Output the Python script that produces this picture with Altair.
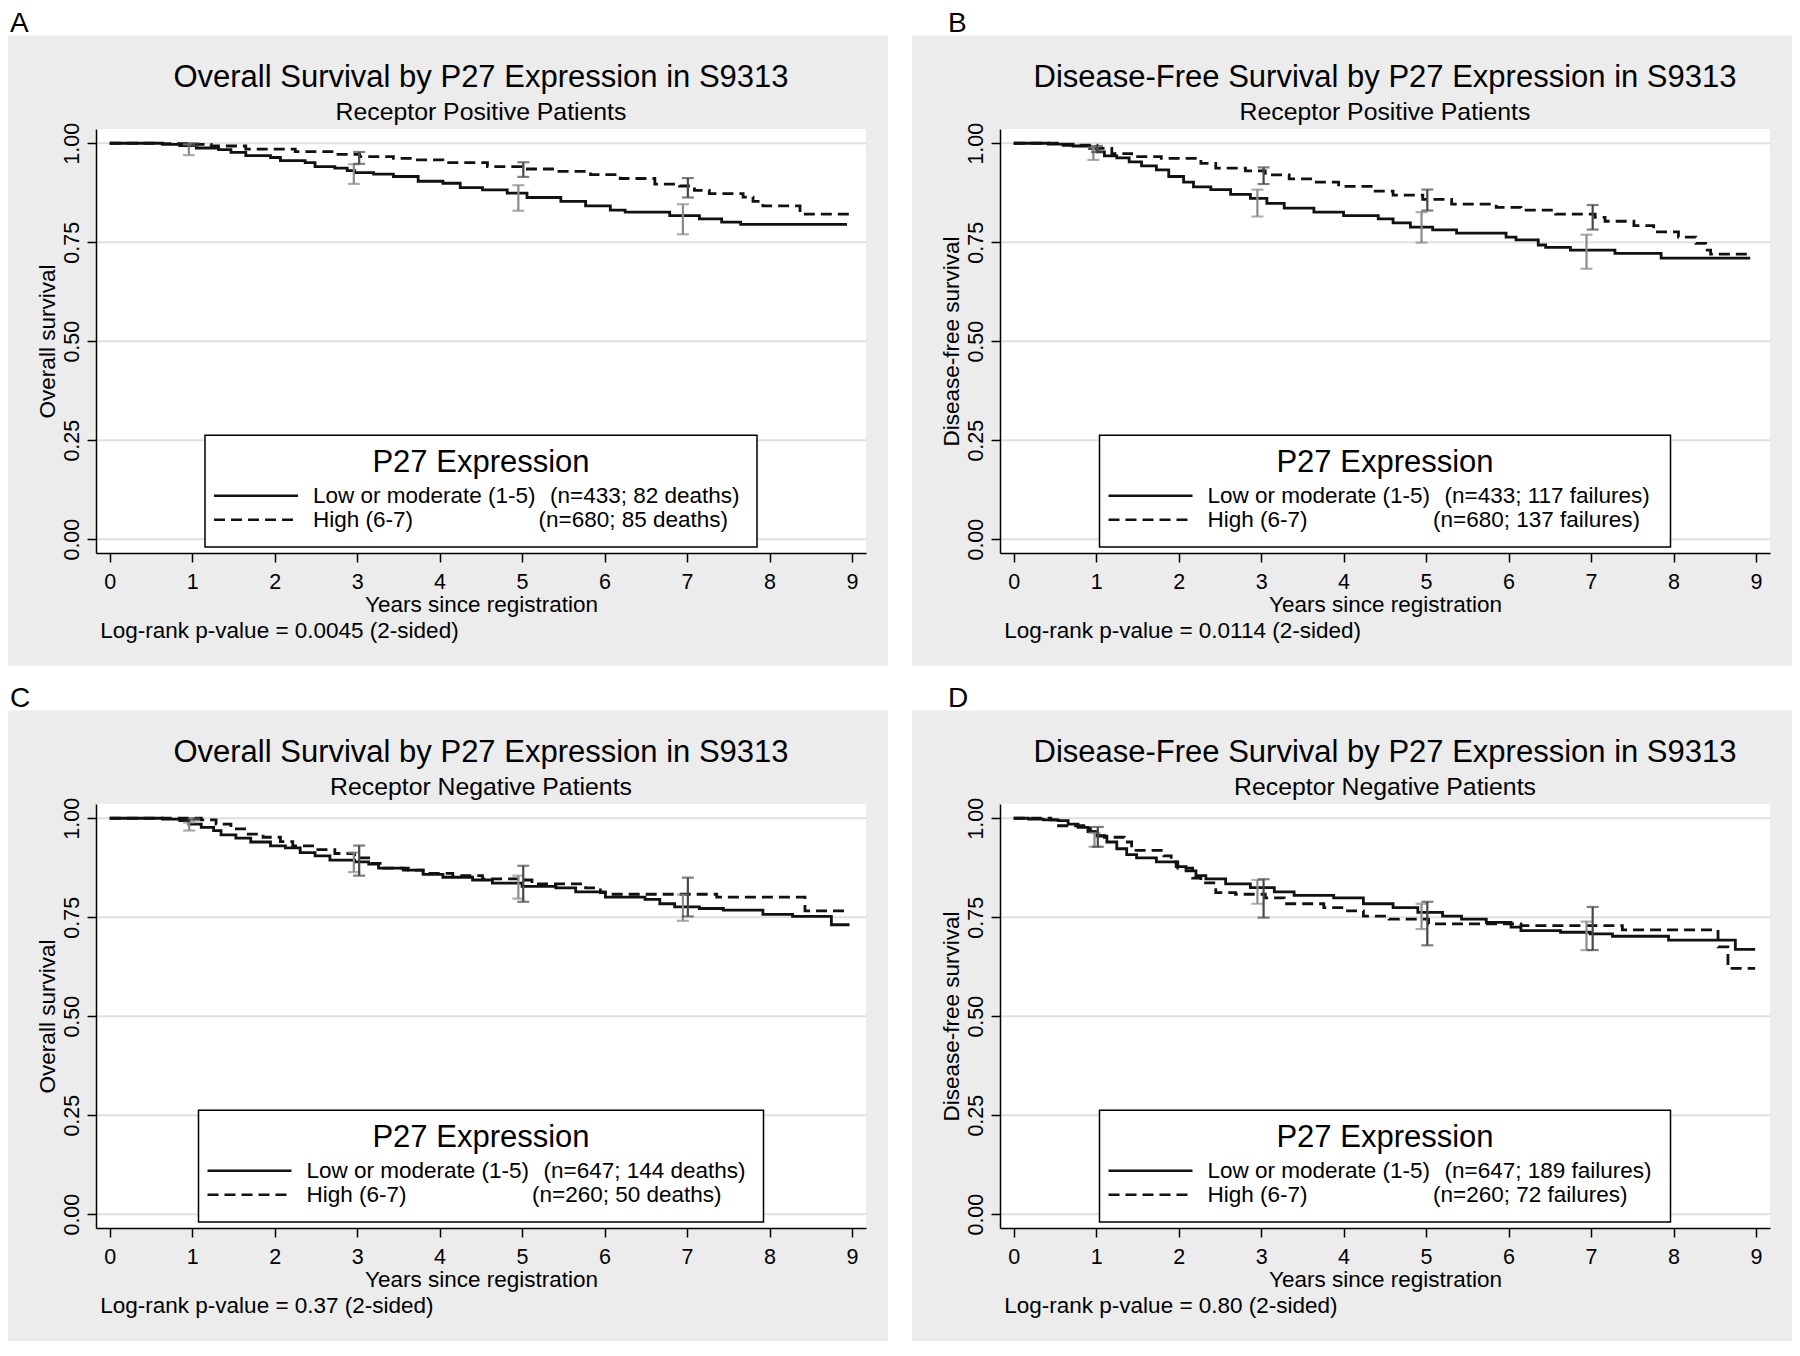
import altair as alt
import pandas as pd

# ---------------------------------------------------------------- data
GROUPS = ["Low or moderate (1-5)", "High (6-7)"]
X_TICKS = list(range(10))
Y_TICKS = [0.0, 0.25, 0.5, 0.75, 1.0]
CI_YEARS = [1, 3, 5, 7]

LETTERS = ["A", "B", "C", "D"]
TITLES = [
    "Overall Survival by P27 Expression in S9313",
    "Disease-Free Survival by P27 Expression in S9313",
    "Overall Survival by P27 Expression in S9313",
    "Disease-Free Survival by P27 Expression in S9313",
]
SUBTITLES = [
    "Receptor Positive Patients",
    "Receptor Positive Patients",
    "Receptor Negative Patients",
    "Receptor Negative Patients",
]
Y_TITLES = ["Overall survival", "Disease-free survival", "Overall survival", "Disease-free survival"]
X_TITLE = "Years since registration"
LEGEND_TITLE = "P27 Expression"
N_LOW = ["(n=433; 82 deaths)", "(n=433; 117 failures)", "(n=647; 144 deaths)", "(n=647; 189 failures)"]
N_HIGH = ["(n=680; 85 deaths)", "(n=680; 137 failures)", "(n=260; 50 deaths)", "(n=260; 72 failures)"]
PVALUES = [
    "Log-rank p-value = 0.0045 (2-sided)",
    "Log-rank p-value = 0.0114 (2-sided)",
    "Log-rank p-value = 0.37 (2-sided)",
    "Log-rank p-value = 0.80 (2-sided)",
]

# Panel A: overall survival, receptor positive
A_LOW_T = [0, 0.64, 0.85, 1.05, 1.32, 1.47, 1.65, 1.95, 2.07, 2.37, 2.49, 2.73, 2.88, 2.97, 3.20, 3.44,
           3.74, 4.04, 4.25, 4.52, 4.82, 5.06, 5.47, 5.77, 6.07, 6.25, 6.79, 7.15, 7.42, 7.65, 8.94]
A_LOW_S = [1.000, 0.997, 0.994, 0.988, 0.984, 0.977, 0.969, 0.964, 0.956, 0.951, 0.941, 0.937, 0.931,
           0.926, 0.922, 0.916, 0.904, 0.899, 0.888, 0.882, 0.874, 0.863, 0.853, 0.842, 0.831, 0.826,
           0.817, 0.809, 0.801, 0.795, 0.795]
A_HIGH_T = [0, 0.55, 0.96, 1.23, 1.65, 2.25, 2.73, 3.03, 3.44, 3.68, 4.04, 4.58, 5.00, 5.41, 5.83, 6.19,
            6.61, 6.91, 7.09, 7.27, 7.68, 7.80, 7.92, 8.37, 8.97]
A_HIGH_S = [1.000, 0.999, 0.997, 0.993, 0.985, 0.979, 0.972, 0.966, 0.962, 0.958, 0.951, 0.941, 0.935,
            0.929, 0.921, 0.911, 0.897, 0.892, 0.881, 0.873, 0.864, 0.853, 0.842, 0.821, 0.821]
A_CI_LOW_X = [0.96, 2.96, 4.955, 6.95]
A_CI_LOW_LO = [0.970, 0.8975, 0.8295, 0.770]
A_CI_LOW_HI = [0.997, 0.947, 0.894, 0.846]
A_CI_HIGH_X = [1.01, 3.025, 5.015, 7.01]
A_CI_HIGH_LO = [0.993, 0.948, 0.915, 0.863]
A_CI_HIGH_HI = [1.000, 0.978, 0.952, 0.912]

# Panel B: disease-free survival, receptor positive
B_LOW_T = [0, 0.42, 0.72, 0.92, 1.01, 1.10, 1.25, 1.40, 1.55, 1.73, 1.88, 2.06, 2.18, 2.39, 2.63, 2.87,
           3.07, 3.28, 3.64, 4.00, 4.42, 4.60, 4.81, 5.08, 5.37, 5.97, 6.09, 6.36, 6.45, 6.75, 7.29,
           7.85, 8.93]
B_LOW_S = [1.000, 0.998, 0.993, 0.987, 0.978, 0.968, 0.963, 0.953, 0.943, 0.933, 0.916, 0.902, 0.890,
           0.883, 0.871, 0.861, 0.848, 0.836, 0.826, 0.817, 0.809, 0.799, 0.788, 0.781, 0.773, 0.763,
           0.756, 0.743, 0.737, 0.730, 0.722, 0.710, 0.710]
B_HIGH_T = [0, 0.60, 1.01, 1.19, 1.43, 1.79, 2.27, 2.45, 2.81, 3.05, 3.34, 3.64, 3.94, 4.36, 4.60, 4.96,
            5.31, 5.85, 6.15, 6.57, 7.05, 7.17, 7.52, 7.76, 8.06, 8.27, 8.39, 8.45, 8.93]
B_HIGH_S = [1.000, 0.995, 0.987, 0.974, 0.966, 0.962, 0.949, 0.937, 0.930, 0.920, 0.910, 0.902, 0.891,
            0.879, 0.869, 0.858, 0.846, 0.838, 0.831, 0.821, 0.813, 0.803, 0.792, 0.776, 0.763, 0.747,
            0.730, 0.720, 0.720]
B_CI_LOW_X = [0.966, 2.955, 4.945, 6.945]
B_CI_LOW_LO = [0.958, 0.815, 0.749, 0.683]
B_CI_LOW_HI = [0.989, 0.883, 0.826, 0.769]
B_CI_HIGH_X = [1.01, 3.03, 5.015, 7.02]
B_CI_HIGH_LO = [0.978, 0.897, 0.830, 0.782]
B_CI_HIGH_HI = [0.993, 0.939, 0.883, 0.844]

# Panel C: overall survival, receptor negative
C_LOW_T = [0, 0.64, 0.85, 0.96, 1.11, 1.26, 1.35, 1.53, 1.71, 1.95, 2.13, 2.31, 2.49, 2.67, 2.97, 3.14,
           3.26, 3.56, 3.80, 4.04, 4.40, 4.64, 5.00, 5.41, 5.65, 6.01, 6.49, 6.67, 6.85, 7.15, 7.44,
           7.92, 8.28, 8.75, 8.97]
C_LOW_S = [1.000, 0.998, 0.994, 0.985, 0.977, 0.969, 0.958, 0.950, 0.940, 0.930, 0.925, 0.913, 0.905,
           0.894, 0.890, 0.884, 0.874, 0.869, 0.858, 0.851, 0.844, 0.836, 0.828, 0.824, 0.814, 0.801,
           0.795, 0.784, 0.776, 0.772, 0.768, 0.757, 0.752, 0.731, 0.731]
C_HIGH_T = [0, 1.11, 1.29, 1.47, 1.68, 1.86, 2.07, 2.22, 2.49, 2.73, 2.97, 3.14, 3.32, 3.62, 3.80, 4.16,
            4.52, 5.00, 5.12, 5.77, 5.95, 6.01, 7.36, 8.43, 8.97]
C_HIGH_S = [1.000, 0.996, 0.985, 0.973, 0.960, 0.952, 0.941, 0.930, 0.921, 0.911, 0.900, 0.886, 0.874,
            0.869, 0.861, 0.855, 0.847, 0.844, 0.834, 0.824, 0.812, 0.808, 0.801, 0.766, 0.766]
C_CI_LOW_X = [0.964, 2.96, 4.955, 6.95]
C_CI_LOW_LO = [0.969, 0.864, 0.797, 0.741]
C_CI_LOW_HI = [0.989, 0.913, 0.855, 0.807]
C_CI_HIGH_X = [1.02, 3.025, 5.014, 7.01]
C_CI_HIGH_LO = [0.995, 0.855, 0.789, 0.752]
C_CI_HIGH_HI = [1.000, 0.931, 0.880, 0.850]

# Panel D: disease-free survival, receptor negative
D_LOW_T = [0, 0.18, 0.36, 0.54, 0.66, 0.78, 0.90, 1.01, 1.13, 1.25, 1.37, 1.49, 1.73, 1.97, 2.09, 2.21,
           2.33, 2.57, 2.87, 3.16, 3.40, 3.88, 4.24, 4.60, 4.90, 5.20, 5.43, 5.73, 6.03, 6.15, 6.63,
           6.99, 7.26, 7.94, 8.75, 8.99]
D_LOW_S = [1.000, 0.998, 0.996, 0.994, 0.985, 0.977, 0.966, 0.955, 0.940, 0.923, 0.908, 0.900, 0.890,
           0.878, 0.867, 0.855, 0.847, 0.834, 0.825, 0.814, 0.805, 0.799, 0.784, 0.774, 0.762, 0.753,
           0.745, 0.737, 0.725, 0.716, 0.712, 0.708, 0.702, 0.692, 0.669, 0.669]
D_HIGH_T = [0, 0.45, 0.51, 0.93, 1.01, 1.10, 1.34, 1.43, 1.82, 1.91, 1.99, 2.17, 2.27, 2.45, 2.69, 3.05,
            3.28, 3.76, 4.00, 4.24, 4.55, 5.03, 6.15, 7.38, 8.54, 8.66, 8.99]
D_HIGH_S = [1.000, 0.996, 0.981, 0.966, 0.956, 0.952, 0.940, 0.919, 0.905, 0.890, 0.874, 0.849, 0.837,
            0.812, 0.808, 0.799, 0.784, 0.774, 0.766, 0.753, 0.745, 0.733, 0.729, 0.718, 0.675, 0.621,
            0.621]
D_CI_LOW_X = [0.98, 2.955, 4.945, 6.945]
D_CI_LOW_LO = [0.928, 0.784, 0.720, 0.667]
D_CI_LOW_HI = [0.963, 0.844, 0.784, 0.739]
D_CI_HIGH_X = [1.02, 3.03, 5.015, 7.02]
D_CI_HIGH_LO = [0.928, 0.749, 0.679, 0.667]
D_CI_HIGH_HI = [0.978, 0.846, 0.789, 0.776]

CURVES = [
    ((A_LOW_T, A_LOW_S), (A_HIGH_T, A_HIGH_S)),
    ((B_LOW_T, B_LOW_S), (B_HIGH_T, B_HIGH_S)),
    ((C_LOW_T, C_LOW_S), (C_HIGH_T, C_HIGH_S)),
    ((D_LOW_T, D_LOW_S), (D_HIGH_T, D_HIGH_S)),
]
CIS = [
    ((A_CI_LOW_X, A_CI_LOW_LO, A_CI_LOW_HI), (A_CI_HIGH_X, A_CI_HIGH_LO, A_CI_HIGH_HI)),
    ((B_CI_LOW_X, B_CI_LOW_LO, B_CI_LOW_HI), (B_CI_HIGH_X, B_CI_HIGH_LO, B_CI_HIGH_HI)),
    ((C_CI_LOW_X, C_CI_LOW_LO, C_CI_LOW_HI), (C_CI_HIGH_X, C_CI_HIGH_LO, C_CI_HIGH_HI)),
    ((D_CI_LOW_X, D_CI_LOW_LO, D_CI_LOW_HI), (D_CI_HIGH_X, D_CI_HIGH_LO, D_CI_HIGH_HI)),
]

# ---------------------------------------------------------------- layout / style
FONT = "Liberation Sans"
W, H = 770, 424
X_DOMAIN = [-0.166, 9.17]
Y_DOMAIN = [-0.035, 1.036]
PANEL_BG = "#ececec"
GRID_COLOR = "#e0e0e0"
LINE_COLOR = "#111111"
CI_COLORS = ["#8a8a8a", "#484848"]
DASH = [11, 6]
LETTER_X = [-86, -52, -86, -52]
LEGEND_W = [552, 571, 565, 571]


def val(v):
    return alt.value(v)


def text_layer(one, s, x, y, size, align="left", baseline="alphabetic"):
    return alt.Chart(one).mark_text(
        align=align, baseline=baseline, font=FONT, fontSize=size, color="black"
    ).encode(x=val(x), y=val(y), text=val(s))


def panel(i):
    one = pd.DataFrame({"k": [0]})
    xs = alt.Scale(domain=X_DOMAIN, nice=False, zero=False)
    ys = alt.Scale(domain=Y_DOMAIN, nice=False, zero=False)
    xaxis = alt.Axis(
        values=X_TICKS, format="d", title=X_TITLE, grid=False, zindex=1,
        labelPadding=9.5, titleX=W / 2, titleY=58, titleAlign="center",
        titleBaseline="alphabetic",
    )
    yaxis = alt.Axis(
        values=Y_TICKS, format=".2f", title=Y_TITLES[i], grid=False, zindex=1,
        labelAngle=270, labelAlign="center", labelBaseline="alphabetic", labelPadding=8.7,
        titleX=-42, titleY=H / 2, titleAngle=270, titleAlign="center",
        titleBaseline="alphabetic",
    )

    def X(f):
        return alt.X(f, type="quantitative", scale=xs, axis=xaxis)

    def Y(f):
        return alt.Y(f, type="quantitative", scale=ys, axis=yaxis)

    layers = []
    # invisible spacer so that the panel letter is never clipped at the top
    layers.append(alt.Chart(one).mark_rect(opacity=0).encode(
        x=val(-88), x2=val(-60), y=val(-121), y2=val(-93.5)))
    # panel background and white plot region
    layers.append(alt.Chart(one).mark_rect(fill=PANEL_BG).encode(
        x=val(-88), x2=val(W + 22), y=val(-93.5), y2=val(H + 113)))
    layers.append(alt.Chart(one).mark_rect(fill="white").encode(
        x=val(0), x2=val(W), y=val(0), y2=val(H)))
    # gridlines
    layers.append(alt.Chart(pd.DataFrame({"g": Y_TICKS})).mark_rule(
        color=GRID_COLOR, strokeWidth=2).encode(y=Y("g")))

    # survival curves
    for g, (ts, ss) in enumerate(CURVES[i]):
        df = pd.DataFrame({"t": ts, "s": ss})
        kw = dict(interpolate="step-after", color=LINE_COLOR, strokeWidth=2.8)
        if g == 1:
            kw["strokeDash"] = DASH
        layers.append(alt.Chart(df).mark_line(**kw).encode(x=X("t"), y=Y("s")))

    # confidence intervals
    for g, (cx, lo, hi) in enumerate(CIS[i]):
        df = pd.DataFrame({"x": cx, "lo": lo, "hi": hi})
        c = CI_COLORS[g]
        layers.append(alt.Chart(df).mark_rule(color=c, strokeWidth=2.2).encode(
            x=X("x"), y=Y("lo"), y2=alt.Y2("hi")))
        for f in ("lo", "hi"):
            layers.append(alt.Chart(df).mark_tick(
                color=c, orient="horizontal", size=12, thickness=2.2).encode(x=X("x"), y=Y(f)))

    # legend
    lw = LEGEND_W[i]
    L = W / 2 - lw / 2
    layers.append(alt.Chart(one).mark_rect(fill="white", stroke="black", strokeWidth=1.5).encode(
        x=val(L), x2=val(L + lw), y=val(H - 117.7), y2=val(H - 6)))
    layers.append(text_layer(one, LEGEND_TITLE, W / 2, H - 81, 31, align="center"))
    for g, (ly, ty, ntext, nx) in enumerate([
        (H - 57.3, H - 50, N_LOW[i], 345),
        (H - 33.3, H - 26.5, N_HIGH[i], 333.5),
    ]):
        kw = dict(color=LINE_COLOR, strokeWidth=2.5)
        if g == 1:
            kw["strokeDash"] = DASH
        layers.append(alt.Chart(one).mark_rule(**kw).encode(
            x=val(L + 9), x2=val(L + 93), y=val(ly)))
        layers.append(text_layer(one, GROUPS[g], L + 108, ty, 22.5))
        layers.append(text_layer(one, ntext, L + nx, ty, 22.5))

    # titles, footnote and panel letter
    layers.append(text_layer(one, TITLES[i], W / 2, -42, 31, align="center"))
    layers.append(text_layer(one, SUBTITLES[i], W / 2, -9, 24.8, align="center"))
    layers.append(text_layer(one, PVALUES[i], 4.3, H + 85, 22.5))
    layers.append(text_layer(one, LETTERS[i], LETTER_X[i], -97, 28))

    return alt.layer(*layers).properties(width=W, height=H)


row1 = alt.hconcat(panel(0), panel(1), spacing=24)
row2 = alt.hconcat(panel(2), panel(3), spacing=24)
chart = alt.vconcat(row1, row2, spacing=17).properties(
    padding=0, background="white"
).configure_view(stroke=None).configure_axis(
    domainColor="black", domainWidth=1.5, tickColor="black", tickWidth=1.5, tickSize=9,
    labelFont=FONT, labelFontSize=21.5, labelColor="black",
    titleFont=FONT, titleFontSize=22.5, titleColor="black", titleFontWeight="normal",
)

chart.save("out.html", embed_options={"renderer": "svg", "actions": False})
